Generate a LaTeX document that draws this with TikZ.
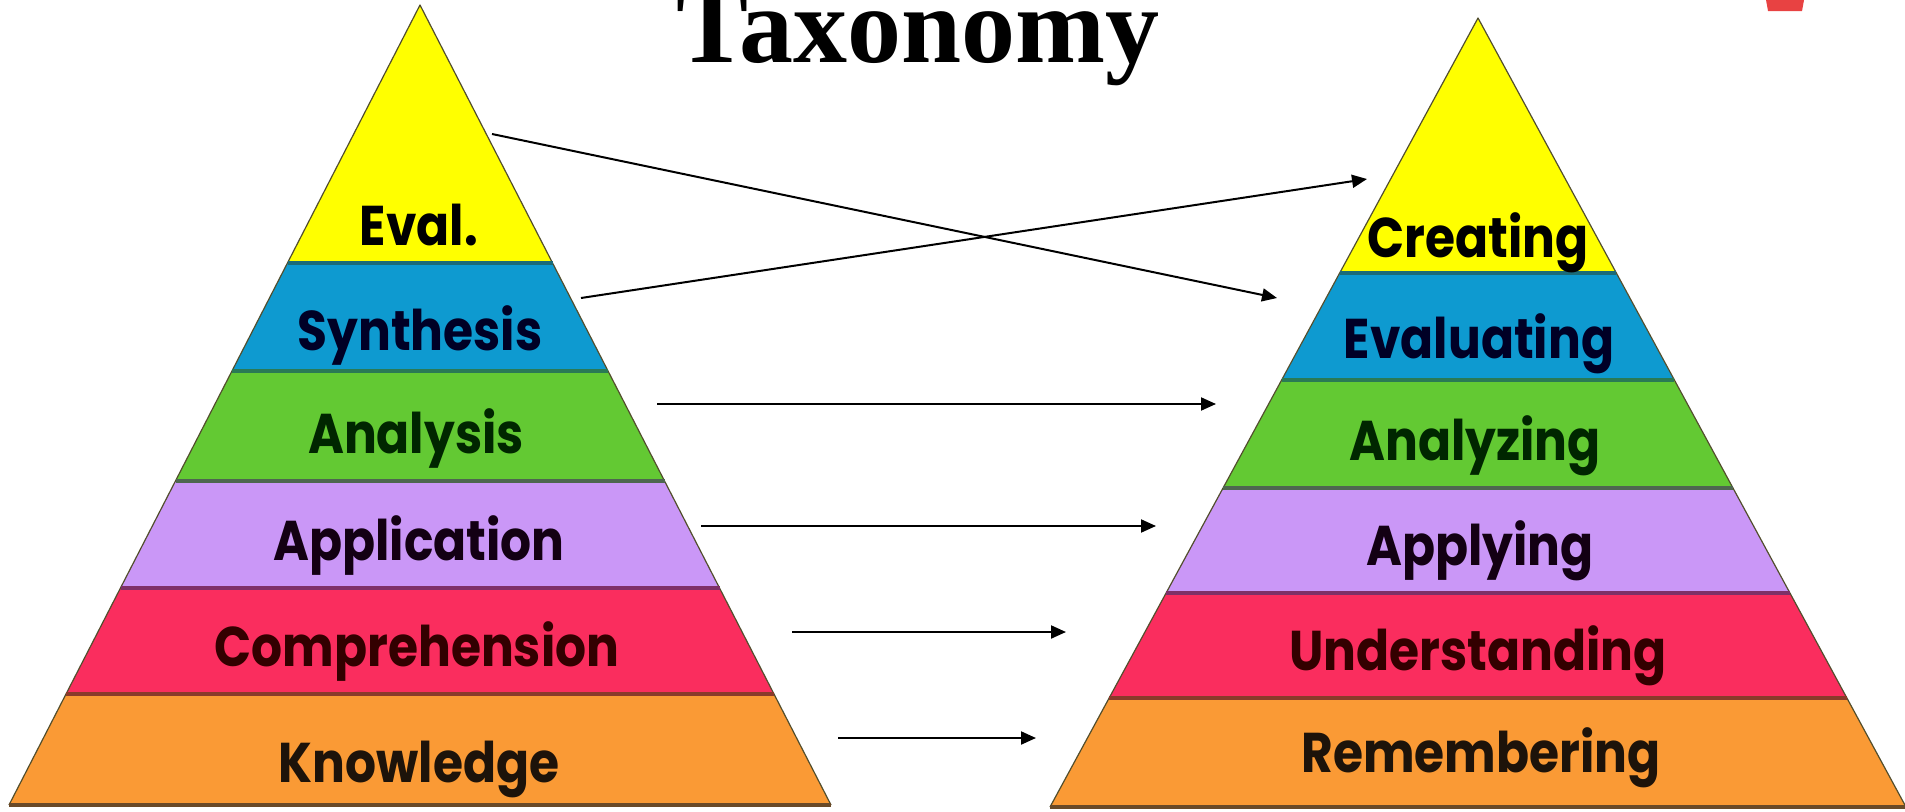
\documentclass[tikz,border=0pt]{standalone}
\usepackage{fontspec}
\setmainfont{Liberation Serif}
\newfontfamily\labfont{Poppins}[FakeStretch=0.87]
\usetikzlibrary{arrows.meta,calc}
\definecolor{cYel}{HTML}{FFFF00}
\definecolor{cBlu}{HTML}{0E9AD0}
\definecolor{cGrn}{HTML}{63C933}
\definecolor{cPur}{HTML}{CA97F7}
\definecolor{cRed}{HTML}{FA2D5E}
\definecolor{cOra}{HTML}{FA9A35}
\definecolor{dYB}{HTML}{1B6B78}
\definecolor{dBG}{HTML}{2A7A55}
\definecolor{dGP}{HTML}{4E6650}
\definecolor{dPR}{HTML}{7E3068}
\definecolor{dRO}{HTML}{8A3A2A}
\definecolor{dBot}{HTML}{6A4A28}
\definecolor{cMark}{HTML}{E84242}
\tikzset{
  edge/.style={draw=black!55!olive, line width=1.2pt, line join=round},
  sep/.style={line width=3.5pt},
  lab/.style={font=\labfont\bfseries\fontsize{56}{60}\selectfont, anchor=base, inner sep=0pt},
  conn/.style={line width=2pt, -{Triangle[length=15pt,width=13pt]}},
}
\begin{document}
\begin{tikzpicture}[x=1pt,y=-1pt]
\useasboundingbox (0,0) rectangle (1905,811);
% ---------- left pyramid ----------
\fill[cYel] (420,5) -- (552.5,263) -- (287.5,263) -- cycle;
\fill[cBlu] (287.5,263) -- (552.5,263) -- (608,371) -- (232,371) -- cycle;
\fill[cGrn] (232,371) -- (608,371) -- (664.5,481) -- (175.5,481) -- cycle;
\fill[cPur] (175.5,481) -- (664.5,481) -- (719.5,588) -- (120.5,588) -- cycle;
\fill[cRed] (120.5,588) -- (719.5,588) -- (774,694) -- (66,694) -- cycle;
\fill[cOra] (66,694) -- (774,694) -- (831,805) -- (9,805) -- cycle;
\draw[edge] (9,805) -- (420,5) -- (831,805);
\draw[sep,dYB] (287.5,263) -- (552.5,263);
\draw[sep,dBG] (232,371) -- (608,371);
\draw[sep,dGP] (175.5,481) -- (664.5,481);
\draw[sep,dPR] (120.5,588) -- (719.5,588);
\draw[sep,dRO] (66,694) -- (774,694);
\draw[sep,dBot] (9,805) -- (831,805);
% ---------- right pyramid ----------
\fill[cYel] (1478,18) -- (1616,273) -- (1340,273) -- cycle;
\fill[cBlu] (1340,273) -- (1616,273) -- (1674,380) -- (1282,380) -- cycle;
\fill[cGrn] (1282,380) -- (1674,380) -- (1733,488) -- (1223,488) -- cycle;
\fill[cPur] (1223,488) -- (1733,488) -- (1790,593) -- (1166,593) -- cycle;
\fill[cRed] (1166,593) -- (1790,593) -- (1847,698) -- (1109,698) -- cycle;
\fill[cOra] (1109,698) -- (1847,698) -- (1906,807) -- (1050,807) -- cycle;
\draw[edge] (1050,807) -- (1478,18) -- (1906,807);
\draw[sep,dYB] (1340,273) -- (1616,273);
\draw[sep,dBG] (1282,380) -- (1674,380);
\draw[sep,dGP] (1223,488) -- (1733,488);
\draw[sep,dPR] (1166,593) -- (1790,593);
\draw[sep,dRO] (1109,698) -- (1847,698);
\draw[sep,dBot] (1050,807) -- (1906,807);
% ---------- labels ----------
\node[lab, text=black] (L1) at (419,245) {Eval.};
\node[lab, text=black!85!blue] (L2) at (420,350) {Synthesis};
\node[lab, text=black!85!green] (L3) at (416,453) {Analysis};
\node[lab, text=black!85!violet] (L4) at (419,560) {Application};
\node[lab, text=black!80!red] (L5) at (417,666) {Comprehension};
\node[lab, text=black!85!brown] (L6) at (419,782) {Knowledge};
\node[lab, text=black] (R1) at (1478,257) {Creating};
\node[lab, text=black!85!blue] (R2) at (1479,358) {Evaluating};
\node[lab, text=black!85!green] (R3) at (1475,460) {Analyzing};
\node[lab, text=black!85!violet] (R4) at (1480,565) {Applying};
\node[lab, text=black!80!red] (R5) at (1478,670) {Understanding};
\node[lab, text=black!85!brown] (R6) at (1481,772) {Remembering};
% ---------- title and mark ----------
\node[font=\bfseries\fontsize{108}{112}\selectfont, anchor=base, inner sep=0pt] (title) at (918,62) {Taxonomy};
\fill[cMark] (1766,0) -- (1804,0) -- (1802,11) -- (1768,11) -- cycle;
% ---------- connectors ----------
\coordinate (a1) at (492,134); \coordinate (b1) at (1277,298);
\coordinate (a2) at (581,298); \coordinate (b2) at (1367,179);
\coordinate (a3) at (657,404); \coordinate (b3) at (1216,404);
\coordinate (a4) at (701,526); \coordinate (b4) at (1156,526);
\coordinate (a5) at (792,632); \coordinate (b5) at (1066,632);
\coordinate (a6) at (838,738); \coordinate (b6) at (1036,738);
\draw[conn] (a1) -- (b1);
\draw[conn] (a2) -- (b2);
\draw[conn] (a3) -- (b3);
\draw[conn] (a4) -- (b4);
\draw[conn] (a5) -- (b5);
\draw[conn] (a6) -- (b6);
\end{tikzpicture}
\end{document}
